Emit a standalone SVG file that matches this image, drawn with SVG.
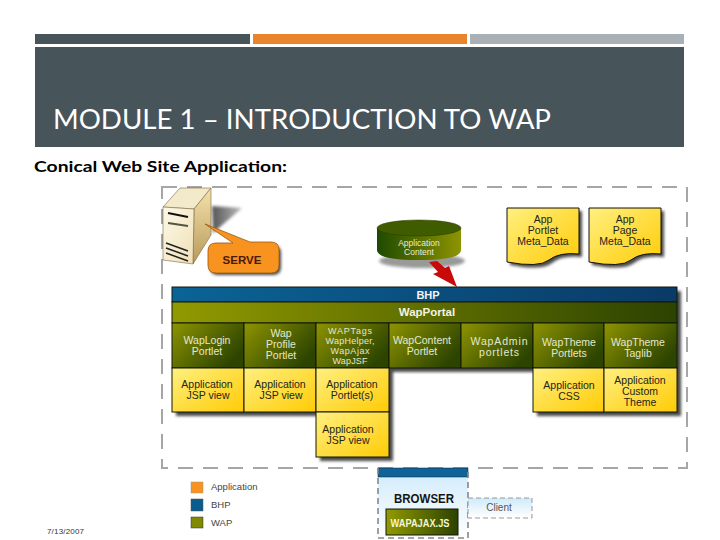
<svg xmlns="http://www.w3.org/2000/svg" width="720" height="540" viewBox="0 0 720 540">
<style>
text{font-family:"Liberation Sans",Arial,sans-serif;text-anchor:middle}
.w{fill:#e4e8d0;font-size:10.5px}
.w9{fill:#e4e8d0;font-size:9px}
.k{fill:#24241a;font-size:10.5px}
.cell{stroke:#10180a;stroke-width:1}
.dash{fill:none;stroke:#a6a6a6;stroke-width:2;stroke-dasharray:15 10}
.sh{fill:#4a4a4a;filter:url(#blur)}
.leg{text-anchor:start;fill:#444;font-size:9.5px}
</style>
<defs>
<linearGradient id="olive" x1="0" y1="0" x2="1" y2="0.6"><stop offset="0" stop-color="#8e9400"/><stop offset="1" stop-color="#2c4400"/></linearGradient>
<linearGradient id="oliveWide" x1="0" y1="0" x2="1" y2="0"><stop offset="0" stop-color="#929a00"/><stop offset="1" stop-color="#2c4200"/></linearGradient>
<linearGradient id="yel" x1="0" y1="0" x2="1" y2="1"><stop offset="0" stop-color="#fff080"/><stop offset="1" stop-color="#ffcb05"/></linearGradient>
<linearGradient id="blue" x1="0" y1="0" x2="1" y2="0"><stop offset="0" stop-color="#0a6496"/><stop offset="1" stop-color="#0a3a66"/></linearGradient>
<linearGradient id="cyl" x1="0" y1="0" x2="1" y2="0"><stop offset="0" stop-color="#1e4a00"/><stop offset="1" stop-color="#8e9400"/></linearGradient>
<linearGradient id="sky" x1="0" y1="0" x2="0" y2="1"><stop offset="0" stop-color="#cfeafb"/><stop offset="1" stop-color="#ffffff"/></linearGradient>
<linearGradient id="beige" x1="0" y1="0" x2="1" y2="1"><stop offset="0" stop-color="#fdf8e6"/><stop offset="1" stop-color="#efe0b8"/></linearGradient>
<linearGradient id="side" x1="0" y1="0" x2="0" y2="1"><stop offset="0" stop-color="#f4e2ac"/><stop offset="1" stop-color="#b8995a"/></linearGradient>
<linearGradient id="fade" x1="0" y1="0" x2="1" y2="0"><stop offset="0" stop-color="#555"/><stop offset="1" stop-color="#bbb"/></linearGradient>
<filter id="blur" x="-20%" y="-20%" width="140%" height="140%"><feGaussianBlur stdDeviation="1.6"/></filter>
</defs>

<g id="header">
<rect x="35" y="34" width="215" height="10" fill="#47545a"/>
<rect x="253" y="34" width="214" height="10" fill="#e8842c"/>
<rect x="470" y="34" width="214" height="10" fill="#a9b1b6"/>
<rect x="35" y="47" width="649" height="100" fill="#47545a"/>
<text x="53" y="129" textLength="498" lengthAdjust="spacingAndGlyphs" style="text-anchor:start;font-family:Lato,sans-serif;font-size:26px;fill:#fff">MODULE 1 – INTRODUCTION TO WAP</text>
<text x="34" y="172" textLength="253" lengthAdjust="spacingAndGlyphs" style="text-anchor:start;font-family:Lato,sans-serif;font-weight:700;font-size:16px;fill:#000">Conical Web Site Application:</text>
</g>

<rect id="frame" class="dash" x="162" y="187" width="525" height="281"/>

<g id="server">
<polygon points="212,206 242,208 213,233" fill="url(#fade)" filter="url(#blur)"/>
<polygon points="163,207 180,188 211,188 194,209" fill="#f3eacb" stroke="#7a6a40" stroke-width=".6"/>
<polygon points="194,209 211,188 211,235 193,264" fill="url(#side)" stroke="#7a6a40" stroke-width=".6"/>
<polygon points="163,207 194,209 193,264 163,260" fill="url(#beige)" stroke="#7a6a40" stroke-width=".6"/>
<path d="M168,213 L188,217" stroke="#111" stroke-width="2" fill="none"/>
<path d="M168,223 L188,226" stroke="#554" stroke-width="2" fill="none"/>
<path d="M166,243 L188,251 M166,248 L188,256 M166,253 L188,261" stroke="#222" stroke-width="1.5" fill="none"/>
</g>

<g id="serve">
<path class="sh" d="M218,245 L271,245 Q281,245 281,253 L281,267 Q281,275 273,275 L218,275 Q210,275 210,267 L210,253 Q210,245 218,245 Z"/>
<path d="M216,243 L233,243 L205,224 L250,242 L271,242 Q279,242 279,250 L279,265 Q279,273 271,273 L216,273 Q208,273 208,265 L208,251 Q208,243 216,243 Z" fill="#f7931e" stroke="#9a5a10" stroke-width=".8"/>
<text x="242" y="264" style="font-size:11.5px;font-weight:700;fill:#4a1a08">SERVE</text>
</g>

<g id="content">
<ellipse cx="422" cy="261" rx="43" ry="7" fill="#999" filter="url(#blur)"/>
<path d="M377,228 L377,250 Q377,260 419,260 Q461,260 461,250 L461,228 Z" fill="url(#cyl)"/>
<ellipse cx="419" cy="228" rx="42" ry="8" fill="#3f5c00" stroke="#2a3a00" stroke-width=".5"/>
<text x="419" y="246" style="font-size:8.5px;fill:#e8ecd8">Application</text>
<text x="419" y="255" style="font-size:8.5px;fill:#e8ecd8">Content</text>
</g>

<g id="connectors">
<polygon points="429,262 437,261 445,268 449,266 457,287 433,274 438,272" fill="#c80a0a"/>
</g>

<g id="doc1">
<path class="sh" d="M510,211H582V257Q562,255 552,263T510,265Z"/>
<path d="M507,208H579V254Q559,252 549,260T507,262Z" fill="url(#yel)" stroke="#111"/>
<text class="k" x="543" y="223">App</text><text class="k" x="543" y="234">Portlet</text><text class="k" x="543" y="245">Meta_Data</text>
</g>
<g id="doc2">
<path class="sh" d="M592,211H664V257Q644,255 634,263T592,265Z"/>
<path d="M589,208H661V254Q641,252 631,260T589,262Z" fill="url(#yel)" stroke="#111"/>
<text class="k" x="625" y="223">App</text><text class="k" x="625" y="234">Page</text><text class="k" x="625" y="245">Meta_Data</text>
</g>

<path id="shadow" class="sh" d="M176,291H681V416H537V372H393V461H320V416H176Z"/>

<g id="bhp">
<rect class="cell" x="172" y="287" width="505" height="15" fill="url(#blue)"/>
<text x="428" y="299" style="font-size:11px;font-weight:700;fill:#f4f4f4">BHP</text>
</g>
<g id="wapportal">
<rect class="cell" x="172" y="302" width="505" height="21" fill="url(#oliveWide)"/>
<text x="427" y="316" style="font-size:11.5px;font-weight:700;fill:#f4f4e0">WapPortal</text>
</g>

<g id="waplogin"><rect class="cell" x="172" y="323" width="72" height="45" fill="url(#olive)"/><text class="w" x="207" y="344">WapLogin</text><text class="w" x="207" y="355">Portlet</text></g>
<g id="wapprofile"><rect class="cell" x="244" y="323" width="72" height="45" fill="url(#olive)"/><text class="w" x="281" y="337">Wap</text><text class="w" x="281" y="348">Profile</text><text class="w" x="281" y="359">Portlet</text></g>
<g id="waptags"><rect class="cell" x="316" y="323" width="73" height="45" fill="url(#olive)"/><text class="w9" x="350" y="334" textLength="44">WAPTags</text><text class="w9" x="350" y="344" textLength="49">WapHelper,</text><text class="w9" x="350" y="354" textLength="39">WapAjax</text><text class="w9" x="350" y="364" textLength="35">WapJSF</text></g>
<g id="wapcontent"><rect class="cell" x="389" y="323" width="72" height="45" fill="url(#olive)"/><text class="w" x="422" y="344">WapContent</text><text class="w" x="422" y="355">Portlet</text></g>
<g id="wapadmin"><rect class="cell" x="461" y="323" width="72" height="45" fill="url(#olive)"/><text class="w" x="499" y="345" textLength="57">WapAdmin</text><text class="w" x="499" y="356" textLength="40">portlets</text></g>
<g id="wapthemeportlets"><rect class="cell" x="533" y="323" width="71" height="45" fill="url(#olive)"/><text class="w" x="569" y="346">WapTheme</text><text class="w" x="569" y="357">Portlets</text></g>
<g id="wapthemetaglib"><rect class="cell" x="604" y="323" width="73" height="45" fill="url(#olive)"/><text class="w" x="638" y="346">WapTheme</text><text class="w" x="638" y="357">Taglib</text></g>

<g id="jsp1"><rect class="cell" x="172" y="368" width="72" height="44" fill="url(#yel)"/><text class="k" x="207" y="388">Application</text><text class="k" x="208" y="399">JSP view</text></g>
<g id="jsp2"><rect class="cell" x="244" y="368" width="72" height="44" fill="url(#yel)"/><text class="k" x="280" y="388">Application</text><text class="k" x="281" y="399">JSP view</text></g>
<g id="portlets"><rect class="cell" x="316" y="368" width="73" height="44" fill="url(#yel)"/><text class="k" x="352" y="388">Application</text><text class="k" x="352" y="399">Portlet(s)</text></g>
<g id="jsp3"><rect class="cell" x="316" y="412" width="73" height="45" fill="url(#yel)"/><text class="k" x="348" y="433">Application</text><text class="k" x="348" y="444">JSP view</text></g>
<g id="css"><rect class="cell" x="533" y="368" width="71" height="44" fill="url(#yel)"/><text class="k" x="569" y="389">Application</text><text class="k" x="569" y="400">CSS</text></g>
<g id="theme"><rect class="cell" x="604" y="368" width="73" height="44" fill="url(#yel)"/><text class="k" x="640" y="384">Application</text><text class="k" x="640" y="395">Custom</text><text class="k" x="640" y="406">Theme</text></g>

<g id="legend">
<rect x="191" y="482" width="12" height="11" fill="#f7931e" stroke="#999" stroke-width=".5"/><text class="leg" x="211" y="490">Application</text>
<rect x="191" y="499" width="12" height="12" fill="#0a5c8c" stroke="#555" stroke-width=".5"/><text class="leg" x="211" y="508">BHP</text>
<rect x="191" y="517" width="12" height="11" fill="#7f8a00" stroke="#333" stroke-width=".5"/><text class="leg" x="211" y="526">WAP</text>
</g>

<g id="browser">
<rect x="378" y="468" width="90" height="70" fill="url(#sky)"/>
<rect x="378" y="468" width="90" height="9" fill="#0f6399" stroke="#123" stroke-width=".5"/>
<path d="M378,468V538H468V468" fill="none" stroke="#888" stroke-width="1.6" stroke-dasharray="6 4"/>
<text x="424" y="503" textLength="60" lengthAdjust="spacingAndGlyphs" style="font-size:13.5px;font-weight:700;fill:#151515">BROWSER</text>
<rect class="cell" x="386" y="509" width="72" height="26" fill="url(#oliveWide)"/>
<text x="420" y="527" textLength="59" lengthAdjust="spacingAndGlyphs" style="font-size:10.5px;font-weight:700;fill:#f4f4d0">WAPAJAX.JS</text>
</g>
<g id="client">
<rect x="468" y="498" width="64" height="20" fill="url(#sky)" stroke="#999" stroke-dasharray="5 3"/>
<text x="499" y="511" style="font-size:10px;fill:#555">Client</text>
</g>
<text id="date" x="47" y="534" textLength="37" style="text-anchor:start;font-size:8px;fill:#333">7/13/2007</text>
</svg>
